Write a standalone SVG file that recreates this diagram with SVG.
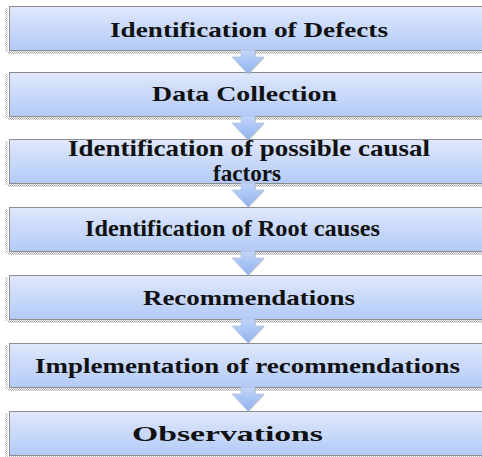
<svg xmlns="http://www.w3.org/2000/svg" width="482" height="457" viewBox="0 0 482 457">
  <defs>
    <linearGradient id="boxFill" x1="0" y1="0" x2="0" y2="1">
      <stop offset="0" stop-color="#e0e8fc"/>
      <stop offset="1" stop-color="#b2caf7"/>
    </linearGradient>
    <linearGradient id="arrowFill" x1="0" y1="0" x2="0" y2="1">
      <stop offset="0" stop-color="#c3d6fb"/>
      <stop offset="1" stop-color="#8fb1ee"/>
    </linearGradient>
    <pattern id="dither" width="2" height="2" patternUnits="userSpaceOnUse">
      <rect width="1" height="1" fill="#9a9a9a"/>
      <rect x="1" y="1" width="1" height="1" fill="#b8b8b8"/>
    </pattern>
    <g id="box">
      <rect x="5" y="2" width="3" height="44" fill="url(#dither)" opacity="0.7"/>
      <rect x="8" y="45" width="480" height="3" fill="url(#dither)"/>
      <rect x="9.5" y="0.5" width="480" height="44" fill="url(#boxFill)" stroke="#8c8c8c" stroke-width="1"/>
    </g>
    <g id="arrow">
      <path d="M241,-1 H255 V6 H264 L248,23 L232,6 H241 Z" fill="#9a9a9a" opacity="0.45" transform="translate(0.8,0.8)"/>
      <path d="M241,-1 H255 V6 H264 L248,23 L232,6 H241 Z" fill="url(#arrowFill)" stroke="#a9b9d6" stroke-width="0.6"/>
    </g>
    <style>
      .lbl { font-family: "Liberation Serif", "DejaVu Serif", serif; font-weight: bold; fill: #111; }
    </style>
  </defs>

  <!-- step boxes -->
  <g id="n1"><use href="#box" x="0" y="6"/></g>
  <g id="n2"><use href="#box" x="0" y="72"/></g>
  <g id="n3"><use href="#box" x="0" y="139"/></g>
  <g id="n4"><use href="#box" x="0" y="207"/></g>
  <g id="n5"><use href="#box" x="0" y="275"/></g>
  <g id="n6"><use href="#box" x="0" y="343"/></g>
  <g id="n7"><use href="#box" x="0" y="411"/></g>

  <!-- down arrows between steps -->
  <g id="connectors">
    <use href="#arrow" x="0" y="51"/>
    <use href="#arrow" x="0" y="117"/>
    <use href="#arrow" x="0" y="184"/>
    <use href="#arrow" x="0" y="252"/>
    <use href="#arrow" x="0" y="320"/>
    <use href="#arrow" x="0" y="388"/>
  </g>

  <!-- labels -->
  <g id="labels">
    <text class="lbl" x="110" y="37" font-size="21" textLength="278" lengthAdjust="spacingAndGlyphs">Identification of Defects</text>
    <text class="lbl" x="152" y="101" font-size="22" textLength="185" lengthAdjust="spacingAndGlyphs">Data Collection</text>
    <text class="lbl" x="68" y="156" font-size="23" textLength="362" lengthAdjust="spacingAndGlyphs">Identification of possible causal</text>
    <text class="lbl" x="213" y="181" font-size="23" textLength="68" lengthAdjust="spacingAndGlyphs">factors</text>
    <text class="lbl" x="85" y="236" font-size="23" textLength="295" lengthAdjust="spacingAndGlyphs">Identification of Root causes</text>
    <text class="lbl" x="143" y="305" font-size="21" textLength="212" lengthAdjust="spacingAndGlyphs">Recommendations</text>
    <text class="lbl" x="35" y="373" font-size="22" textLength="425" lengthAdjust="spacingAndGlyphs">Implementation of recommendations</text>
    <text class="lbl" x="132" y="441" font-size="22" textLength="191" lengthAdjust="spacingAndGlyphs">Observations</text>
  </g>
</svg>
